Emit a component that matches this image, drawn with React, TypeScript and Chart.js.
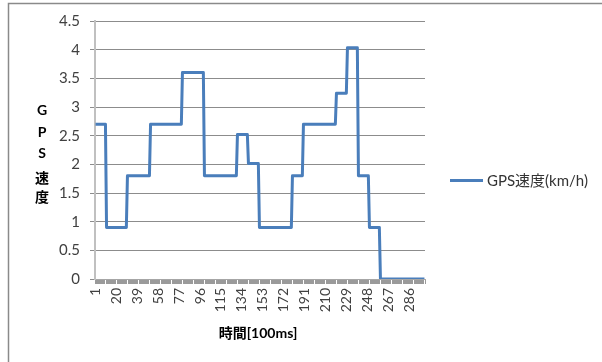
import React, { useEffect, useRef } from "react";
import { Chart, registerables } from "chart.js";

Chart.register(...registerables);

// GPS speed (km/h): value held for a run of consecutive 100ms samples
const runValues = [2.7, 0.9, 1.8, 2.7, 3.6, 1.8, 2.52, 2.016, 0.9, 1.8, 2.7, 3.24, 4.032, 1.8, 0.9, 0];
const runLengths = [10, 19, 21, 29, 20, 30, 10, 10, 30, 10, 30, 10, 10, 10, 10, 41];
const tickLabels = ["1", "20", "39", "58", "77", "96", "115", "134", "153", "172", "191", "210", "229", "248", "267", "286"];
const seriesName = "GPS速度(km/h)";
const yTitleChars = ["G", "P", "S", "速", "度"];
const xTitle = "時間[100ms]";

const speeds: number[] = [];
runValues.forEach((v, i) => {
  for (let k = 0; k < runLengths[i]; k++) speeds.push(v);
});
const categories: string[] = speeds.map((_, i) => String(i + 1));

const FONT = "Lato, 'Noto Sans CJK JP', sans-serif";
const LINE = "#4a7ebb";
const TEXT = "#404040";

const decorPlugin = {
  id: "decor",
  beforeDraw(chart: any) {
    const ctx = chart.ctx;
    ctx.save();
    ctx.fillStyle = "#ffffff";
    ctx.fillRect(0, 0, chart.width, chart.height);
    ctx.restore();
  },
  afterDraw(chart: any) {
    const ctx = chart.ctx;
    ctx.save();
    // outer frame (left and top edges visible)
    ctx.strokeStyle = "#8a8a8a";
    ctx.lineWidth = 1.5;
    ctx.beginPath();
    ctx.moveTo(8.5, chart.height + 5);
    ctx.lineTo(8.5, 3.5);
    ctx.lineTo(chart.width + 5, 3.5);
    ctx.stroke();

    // y title stacked vertically
    ctx.fillStyle = "#000000";
    ctx.textAlign = "center";
    ctx.textBaseline = "middle";
    const ys = [110, 132, 153, 178, 197];
    yTitleChars.forEach((c, i) => {
      ctx.font = `bold 14px ${FONT}`;
      ctx.fillText(c, 42, ys[i]);
    });

    // x title
    ctx.font = `bold 14px ${FONT}`;
    ctx.fillText(xTitle, 258, 333);

    // legend
    ctx.strokeStyle = LINE;
    ctx.lineWidth = 3;
    ctx.beginPath();
    ctx.moveTo(450, 180.5);
    ctx.lineTo(483, 180.5);
    ctx.stroke();
    ctx.fillStyle = "#333333";
    ctx.textAlign = "left";
    ctx.font = `15px ${FONT}`;
    ctx.fillText(seriesName, 487, 181);
    ctx.restore();
  },
};

export default function App() {
  const ref = useRef<HTMLCanvasElement | null>(null);
  useEffect(() => {
    if (!ref.current) return;
    const chart = new Chart(ref.current, {
      type: "line",
      data: {
        labels: categories,
        datasets: [
          {
            label: seriesName,
            data: speeds,
            borderColor: LINE,
            backgroundColor: LINE,
            borderWidth: 3,
            borderJoinStyle: "round",
            pointRadius: 0,
            tension: 0,
            fill: false,
          },
        ],
      },
      options: {
        responsive: false,
        animation: false,
        devicePixelRatio: 1,
        layout: { padding: { left: 0, top: 21, right: 177, bottom: 0 } },
        plugins: {
          legend: { display: false },
          tooltip: { enabled: false },
          title: { display: false },
        },
        scales: {
          x: {
            type: "category",
            offset: true,
            grid: {
              display: true,
              drawOnChartArea: false,
              drawTicks: true,
              tickLength: 5,
              color: "#9a9a9a",
              lineWidth: 1,
              offset: true,
            },
            border: { display: true, color: "#a6a6a6", width: 1 },
            ticks: {
              autoSkip: false,
              minRotation: 90,
              maxRotation: 90,
              padding: 4,
              color: TEXT,
              font: { family: FONT, size: 14 },
              callback: (_v: any, i: number) => {
                const lab = categories[i];
                return tickLabels.includes(lab) ? lab : "";
              },
            },
            afterFit: (scale: any) => {
              scale.height = 83;
            },
          },
          y: {
            min: 0,
            max: 4.5,
            grid: {
              color: "#8c8c8c",
              lineWidth: 1,
              drawTicks: true,
              tickLength: 5,
            },
            border: { display: true, color: "#c0c0c0", width: 2 },
            ticks: {
              stepSize: 0.5,
              padding: 10,
              color: TEXT,
              font: { family: FONT, size: 15 },
              callback: (v: any) => String(Number(v)),
            },
            afterFit: (scale: any) => {
              scale.width = 95;
            },
          },
        },
      },
      plugins: [decorPlugin],
    });
    return () => chart.destroy();
  }, []);
  return (
    <div style={{ position: "absolute", left: 0, top: 0, width: 602, height: 362 }}>
      <canvas ref={ref} width={602} height={362} style={{ display: "block" }} />
    </div>
  );
}
